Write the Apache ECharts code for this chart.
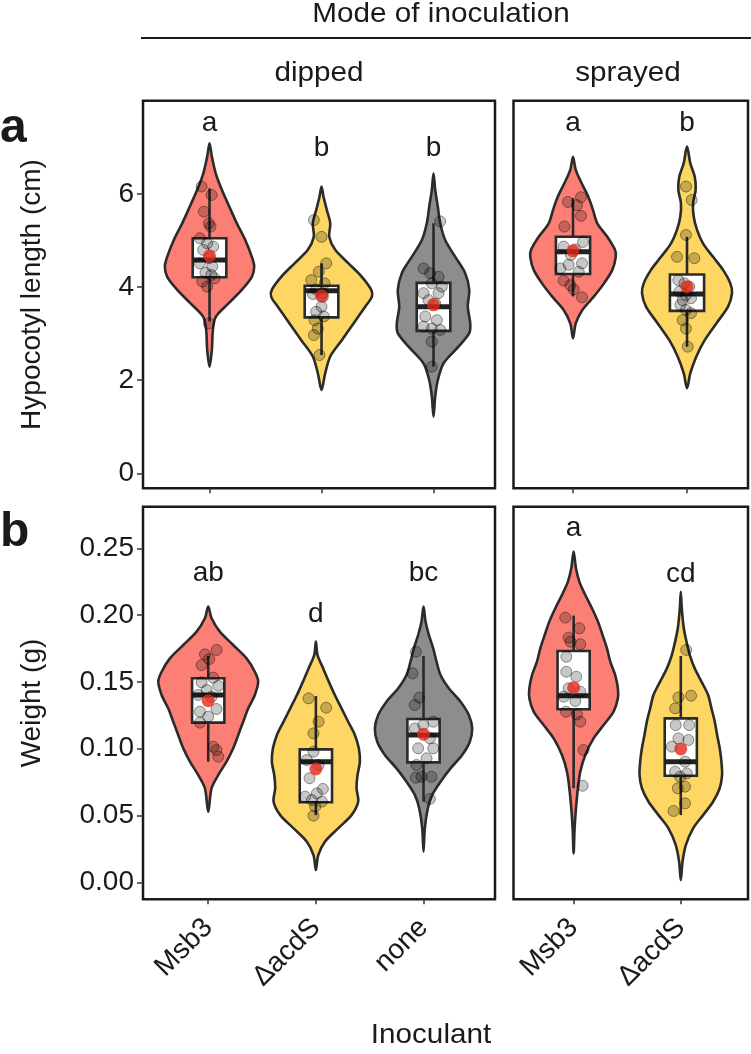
<!DOCTYPE html>
<html>
<head>
<meta charset="utf-8">
<script src="https://cdn.jsdelivr.net/npm/echarts@6/dist/echarts.min.js"></script>
<style>
  html, body { margin: 0; background: #fff; }
  #chart { width: 751px; height: 1054px; }
</style>
</head>
<body>
<div id="chart"></div>
<script>
// categories per facet
const dippedCats = ['Msb3', 'ΔacdS', 'none']
const sprayedCats = ['Msb3', 'ΔacdS']

// tick labels
const hypTicks = [0, 2, 4, 6]
const wtTicks = [0, 0.05, 0.10, 0.15, 0.20, 0.25]

// violin outlines: y values and half widths (in category units)
const hypDipMsb3Y = [7.09, 6.80, 6.44, 6.09, 5.73, 5.37, 5.01, 4.65, 4.44, 4.22, 3.94, 3.65, 3.36, 3.08, 2.65, 2.29]
const hypDipMsb3W = [0, 0.021, 0.056, 0.11, 0.176, 0.244, 0.319, 0.378, 0.399, 0.378, 0.288, 0.17, 0.056, 0.03, 0.021, 0]
const hypDipAcdsY = [6.16, 5.94, 5.66, 5.37, 5.08, 4.80, 4.51, 4.22, 3.94, 3.79, 3.58, 3.22, 2.86, 2.51, 2.15, 1.79]
const hypDipAcdsW = [0, 0.018, 0.047, 0.078, 0.069, 0.122, 0.241, 0.36, 0.444, 0.449, 0.39, 0.286, 0.181, 0.078, 0.033, 0]
const hypDipNoneY = [6.44, 6.09, 5.73, 5.37, 5.01, 4.65, 4.30, 3.94, 3.58, 3.22, 3.01, 2.72, 2.36, 2.00, 1.65, 1.22]
const hypDipNoneW = [0, 0.015, 0.038, 0.06, 0.104, 0.194, 0.283, 0.319, 0.306, 0.328, 0.319, 0.223, 0.089, 0.038, 0.015, 0]
const hypSprMsb3Y = [6.80, 6.52, 6.23, 5.94, 5.66, 5.37, 5.08, 4.80, 4.65, 4.37, 4.08, 3.80, 3.51, 3.22, 2.90]
const hypSprMsb3W = [0, 0.024, 0.076, 0.134, 0.175, 0.213, 0.301, 0.368, 0.375, 0.345, 0.272, 0.184, 0.082, 0.024, 0]
const hypSprAcdsY = [7.02, 6.66, 6.37, 6.09, 5.80, 5.51, 5.23, 4.94, 4.65, 4.37, 4.08, 3.87, 3.58, 3.22, 2.86, 2.51, 2.15, 1.83]
const hypSprAcdsW = [0, 0.029, 0.068, 0.076, 0.053, 0.059, 0.088, 0.14, 0.228, 0.316, 0.38, 0.395, 0.36, 0.257, 0.155, 0.082, 0.029, 0]

const wtDipMsb3Y = [0.2063, 0.1976, 0.1876, 0.1776, 0.1676, 0.1576, 0.1502, 0.1402, 0.1302, 0.1202, 0.1103, 0.1003, 0.0903, 0.0803, 0.0704, 0.0528]
const wtDipMsb3W = [0, 0.031, 0.108, 0.232, 0.356, 0.433, 0.464, 0.433, 0.372, 0.325, 0.279, 0.232, 0.17, 0.093, 0.031, 0]
const wtDipAcdsY = [0.1801, 0.1701, 0.1601, 0.1502, 0.1402, 0.1302, 0.1202, 0.1103, 0.1003, 0.0903, 0.0803, 0.0704, 0.0603, 0.0503, 0.0404, 0.0304, 0.0204, 0.0092]
const wtDipAcdsW = [0, 0.015, 0.068, 0.12, 0.176, 0.238, 0.30, 0.362, 0.399, 0.409, 0.387, 0.378, 0.393, 0.331, 0.207, 0.084, 0.022, 0]
const wtDipNoneY = [0.2063, 0.1951, 0.1851, 0.1751, 0.1651, 0.1551, 0.1452, 0.1352, 0.1252, 0.1152, 0.1052, 0.0953, 0.0853, 0.0753, 0.0653, 0.0554, 0.0404, 0.0229]
const wtDipNoneW = [0, 0.019, 0.05, 0.09, 0.121, 0.158, 0.235, 0.344, 0.421, 0.452, 0.43, 0.359, 0.251, 0.158, 0.08, 0.04, 0.012, 0]
const wtSprMsb3Y = [0.2475, 0.2350, 0.2250, 0.2150, 0.2051, 0.1951, 0.1851, 0.1751, 0.1651, 0.1551, 0.1452, 0.1377, 0.1277, 0.1177, 0.1077, 0.0953, 0.0828, 0.0704, 0.0554, 0.0404, 0.0217]
const wtSprMsb3W = [0, 0.022, 0.053, 0.109, 0.171, 0.227, 0.27, 0.311, 0.342, 0.388, 0.413, 0.413, 0.373, 0.28, 0.186, 0.109, 0.062, 0.04, 0.022, 0.009, 0]
const wtSprAcdsY = [0.2175, 0.2051, 0.1901, 0.1801, 0.1701, 0.1601, 0.1502, 0.1402, 0.1302, 0.1202, 0.1103, 0.1003, 0.0903, 0.0803, 0.0704, 0.0603, 0.0503, 0.0404, 0.0279, 0.0155, 0.0017]
const wtSprAcdsW = [0, 0.009, 0.028, 0.053, 0.084, 0.13, 0.193, 0.255, 0.286, 0.317, 0.339, 0.363, 0.379, 0.385, 0.363, 0.301, 0.208, 0.115, 0.047, 0.016, 0]

// box stats: [lower whisker, q1, median, q3, upper whisker]
const hypDipBox = [[3.26, 4.21, 4.58, 5.05, 6.12], [2.54, 3.35, 3.92, 4.03, 4.51], [2.29, 3.06, 3.58, 4.09, 5.37]]
const hypSprBox = [[3.80, 4.28, 4.76, 5.08, 5.91], [2.72, 3.49, 3.85, 4.27, 5.08]]
const wtDipBox = [[0.0903, 0.1195, 0.1402, 0.1527, 0.1694], [0.0503, 0.0599, 0.0903, 0.0995, 0.1394], [0.0603, 0.0898, 0.1103, 0.1222, 0.1694]]
const wtSprBox = [[0.0704, 0.1295, 0.1397, 0.1731, 0.1996], [0.0503, 0.0798, 0.0903, 0.1227, 0.1694]]

// group means (red dots)
const hypDipMean = [4.67, 3.81, 3.62]
const hypSprMean = [4.78, 4.01]
const wtDipMean = [0.1359, 0.0848, 0.1108]
const wtSprMean = [0.1457, 0.0998]

// significance letters
const hypDipLetters = ['a', 'b', 'b']
const hypDipLetterY = [7.51, 6.98, 6.98]
const hypSprLetters = ['a', 'b']
const hypSprLetterY = [7.51, 7.51]
const wtDipLetters = ['ab', 'd', 'bc']
const wtDipLetterY = [0.2315, 0.2008, 0.2315]
const wtSprLetters = ['a', 'cd']
const wtSprLetterY = [0.2648, 0.2308]

// individual plants: [jitter, value]
const hypDipMsb3Pts = [[-0.071, 6.16], [0.018, 5.98], [-0.05, 5.62], [-0.006, 5.37], [0.009, 5.30], [-0.086, 5.05], [-0.021, 4.94], [0.033, 4.87], [-0.057, 4.80], [-0.006, 4.62], [-0.086, 4.51], [0.024, 4.44], [-0.036, 4.31], [0.015, 4.26], [-0.065, 4.12], [-0.021, 4.01], [0.045, 4.19], [-0.006, 3.22]]
const hypDipAcdsPts = [[-0.068, 5.44], [0, 5.08], [0.042, 4.51], [-0.024, 4.33], [-0.092, 4.15], [0.027, 4.08], [-0.048, 3.95], [-0.077, 3.85], [0.012, 3.79], [0, 3.58], [-0.048, 3.47], [0.021, 3.37], [-0.063, 3.29], [-0.033, 3.11], [-0.068, 2.97], [-0.018, 2.54], [0.012, 3.87]]
const hypDipNonePts = [[0.06, 5.41], [-0.089, 4.40], [-0.03, 4.30], [0.045, 4.22], [-0.015, 4.08], [0.074, 4.01], [-0.089, 3.87], [0.045, 3.87], [-0.045, 3.72], [0.015, 3.65], [-0.074, 3.37], [0.03, 3.29], [-0.089, 3.15], [-0.015, 3.11], [0.06, 3.08], [-0.015, 2.83], [-0.015, 2.29]]
const hypSprMsb3Pts = [[-0.044, 5.83], [0.07, 5.93], [0.035, 5.76], [0.07, 5.53], [-0.076, 5.30], [0.088, 4.97], [-0.082, 4.87], [0.02, 4.81], [-0.018, 4.69], [0.079, 4.51], [-0.038, 4.48], [-0.111, 4.40], [0.05, 4.33], [-0.082, 4.14], [-0.023, 4.04], [0.006, 3.95], [0.079, 3.78]]
const hypSprAcdsPts = [[-0.009, 6.16], [0.041, 5.87], [-0.009, 5.12], [-0.088, 4.65], [0.064, 4.62], [-0.076, 4.15], [-0.023, 4.08], [0.02, 4.01], [-0.067, 3.90], [-0.009, 3.83], [-0.038, 3.72], [0.035, 3.76], [-0.058, 3.62], [-0.009, 3.51], [0.035, 3.44], [-0.038, 3.29], [-0.009, 3.11], [0.006, 2.72]]
const wtDipMsb3Pts = [[0.077, 0.1739], [-0.031, 0.1706], [0.009, 0.1671], [-0.062, 0.1626], [0.046, 0.1532], [-0.062, 0.1497], [0.093, 0.1471], [-0.015, 0.1439], [-0.093, 0.1402], [0.031, 0.1389], [0.077, 0.1297], [-0.077, 0.1277], [0, 0.1240], [-0.077, 0.1195], [0.046, 0.1015], [0.077, 0.0990], [0.093, 0.0940]]
const wtDipAcdsPts = [[-0.068, 0.1377], [0.096, 0.1307], [0.025, 0.1202], [-0.022, 0.1115], [-0.022, 0.0978], [-0.084, 0.0915], [0.025, 0.0878], [-0.059, 0.0779], [0.065, 0.0699], [0.009, 0.0666], [-0.099, 0.0641], [-0.037, 0.0616], [0.056, 0.0604], [-0.006, 0.0566], [-0.022, 0.0499]]
const wtDipNonePts = [[-0.071, 0.1726], [-0.102, 0.1564], [-0.04, 0.1382], [-0.081, 0.1327], [-0.003, 0.1177], [0.09, 0.1202], [-0.081, 0.1152], [0.059, 0.1077], [-0.05, 0.1003], [0.09, 0.1003], [0.028, 0.0928], [-0.065, 0.0878], [-0.019, 0.0790], [0.074, 0.0790], [-0.071, 0.0783], [0.059, 0.0624]]
const wtSprMsb3Pts = [[-0.078, 0.1981], [0.053, 0.1901], [-0.047, 0.1831], [-0.028, 0.1801], [0.062, 0.1781], [-0.068, 0.1688], [-0.068, 0.1576], [0.025, 0.1539], [-0.047, 0.1452], [0.062, 0.1427], [-0.093, 0.1389], [0.016, 0.1357], [-0.071, 0.1277], [0.031, 0.1257], [0.062, 0.1202], [0.093, 0.0990], [0.084, 0.0723]]
const wtSprAcdsPts = [[0.05, 0.1739], [-0.022, 0.1384], [0.096, 0.1397], [-0.053, 0.1302], [-0.047, 0.1177], [0.078, 0.1177], [-0.022, 0.1077], [0.071, 0.1065], [-0.084, 0.1015], [0.04, 0.0903], [-0.053, 0.0828], [0.056, 0.0815], [-0.006, 0.0790], [-0.028, 0.0704], [0.04, 0.0716], [0.04, 0.0591], [-0.068, 0.0534]]

const ink = '#1a1a1a'
const font = 'Liberation Sans, Arial, Helvetica, sans-serif'
const catColor = { 'Msb3': '#fc7f75', 'ΔacdS': '#fdd663', 'none': '#8d8d8d' }

const panels = [
  { cats: dippedCats, vy: [hypDipMsb3Y, hypDipAcdsY, hypDipNoneY], vw: [hypDipMsb3W, hypDipAcdsW, hypDipNoneW],
    box: hypDipBox, mean: hypDipMean, pts: [hypDipMsb3Pts, hypDipAcdsPts, hypDipNonePts], letters: hypDipLetters, letterY: hypDipLetterY },
  { cats: sprayedCats, vy: [hypSprMsb3Y, hypSprAcdsY], vw: [hypSprMsb3W, hypSprAcdsW],
    box: hypSprBox, mean: hypSprMean, pts: [hypSprMsb3Pts, hypSprAcdsPts], letters: hypSprLetters, letterY: hypSprLetterY },
  { cats: dippedCats, vy: [wtDipMsb3Y, wtDipAcdsY, wtDipNoneY], vw: [wtDipMsb3W, wtDipAcdsW, wtDipNoneW],
    box: wtDipBox, mean: wtDipMean, pts: [wtDipMsb3Pts, wtDipAcdsPts, wtDipNonePts], letters: wtDipLetters, letterY: wtDipLetterY },
  { cats: sprayedCats, vy: [wtSprMsb3Y, wtSprAcdsY], vw: [wtSprMsb3W, wtSprAcdsW],
    box: wtSprBox, mean: wtSprMean, pts: [wtSprMsb3Pts, wtSprAcdsPts], letters: wtSprLetters, letterY: wtSprLetterY }
]

const grids = [
  { left: 143, top: 100.7, width: 352, height: 387.6 },
  { left: 513.5, top: 100.7, width: 234.5, height: 387.6 },
  { left: 143, top: 506.7, width: 352, height: 392.6 },
  { left: 513.5, top: 506.7, width: 234.5, height: 392.6 }
].map(g => Object.assign(g, { show: true, borderColor: ink, borderWidth: 2.5, backgroundColor: 'transparent' }))

const xRange = [[0.406, 3.549], [0.478, 2.535], [0.394, 3.664], [0.439, 2.627]]

function xAxisCfg (gi) {
  const cats = panels[gi].cats
  const pos = cats.map((c, i) => i + 1)
  return {
    type: 'value',
    gridIndex: gi,
    position: 'bottom',
    min: xRange[gi][0],
    max: xRange[gi][1],
    axisLine: { show: false, onZero: false },
    splitLine: { show: false },
    axisTick: { show: true, customValues: pos, length: 5, lineStyle: { color: '#333', width: 1.5 } },
    axisLabel: {
      show: gi >= 2,
      customValues: pos,
      rotate: 45,
      margin: 24,
      fontSize: 28,
      fontFamily: font,
      color: ink,
      formatter: v => cats[Math.round(v) - 1]
    }
  }
}

function yAxisCfg (gi) {
  const top = gi < 2
  const ticks = top ? hypTicks : wtTicks
  const left = gi % 2 === 0
  return {
    type: 'value',
    gridIndex: gi,
    position: 'left',
    min: top ? -0.322 : -0.0127,
    max: top ? 8.004 : 0.2811,
    axisLine: { show: false, onZero: false },
    splitLine: { show: false },
    axisTick: { show: left, customValues: ticks, length: 6, lineStyle: { color: '#333', width: 1.5 } },
    axisLabel: {
      show: left,
      customValues: ticks,
      margin: 9,
      fontSize: 28,
      fontFamily: font,
      color: ink,
      formatter: v => top ? String(v) : v.toFixed(2)
    }
  }
}

function panelSeries (p, gi) {
  const series = []
  // violins
  series.push({
    type: 'custom',
    xAxisIndex: gi,
    yAxisIndex: gi,
    silent: true,
    data: p.cats.map((c, i) => [i + 1]),
    renderItem: (params, api) => {
      const k = params.dataIndex
      const x = k + 1
      const vy = p.vy[k]
      const vw = p.vw[k]
      const pts = []
      for (let i = 0; i < vy.length; i++) pts.push(api.coord([x + vw[i], vy[i]]))
      for (let i = vy.length - 2; i > 0; i--) pts.push(api.coord([x - vw[i], vy[i]]))
      return {
        type: 'polygon',
        shape: { points: pts, smooth: 0.3 },
        style: { fill: catColor[p.cats[k]], stroke: '#2b2b2b', lineWidth: 2.6 }
      }
    }
  })
  // boxplots
  series.push({
    type: 'custom',
    xAxisIndex: gi,
    yAxisIndex: gi,
    silent: true,
    data: p.box.map((b, i) => [i + 1].concat(b)),
    renderItem: (params, api) => {
      const x = api.value(0)
      const lo = api.coord([x, api.value(1)])
      const hi = api.coord([x, api.value(5)])
      const a = api.coord([x - 0.15, api.value(4)])
      const b = api.coord([x + 0.15, api.value(2)])
      const m1 = api.coord([x - 0.15, api.value(3)])
      const m2 = api.coord([x + 0.15, api.value(3)])
      const st = { stroke: '#2b2b2b', lineWidth: 2.6 }
      return {
        type: 'group',
        children: [
          { type: 'line', shape: { x1: lo[0], y1: lo[1], x2: hi[0], y2: hi[1] }, style: st },
          { type: 'rect', shape: { x: a[0], y: a[1], width: b[0] - a[0], height: b[1] - a[1] }, style: Object.assign({ fill: '#fff' }, st) },
          { type: 'line', shape: { x1: m1[0], y1: m1[1], x2: m2[0], y2: m2[1] }, style: { stroke: '#222', lineWidth: 5 } }
        ]
      }
    }
  })
  // jittered points
  series.push({
    type: 'scatter',
    xAxisIndex: gi,
    yAxisIndex: gi,
    silent: true,
    symbolSize: 11,
    itemStyle: { color: 'rgba(0,0,0,0.27)', borderColor: 'rgba(0,0,0,0.5)', borderWidth: 1 },
    data: p.pts.flatMap((arr, k) => arr.map(d => [k + 1 + d[0], d[1]]))
  })
  // means
  series.push({
    type: 'scatter',
    xAxisIndex: gi,
    yAxisIndex: gi,
    silent: true,
    symbolSize: 13,
    itemStyle: { color: '#e2291a' },
    data: p.mean.map((m, k) => [k + 1, m])
  })
  // letters
  series.push({
    type: 'custom',
    xAxisIndex: gi,
    yAxisIndex: gi,
    silent: true,
    data: p.letterY.map((y, k) => [k + 1, y]),
    renderItem: (params, api) => {
      const c = api.coord([api.value(0), api.value(1)])
      return {
        type: 'text',
        style: {
          text: p.letters[params.dataIndex], x: c[0], y: c[1],
          align: 'center', verticalAlign: 'middle', textAlign: 'center', textVerticalAlign: 'middle',
          fontSize: 28, fontFamily: font, fill: ink
        }
      }
    }
  })
  return series
}

const textStyle = (t, size, weight) => ({ text: t, fontSize: size, fontFamily: font, fontWeight: weight || 'normal', fill: ink, align: 'center', verticalAlign: 'middle' })

const option = {
  animation: false,
  backgroundColor: '#fff',
  grid: grids,
  xAxis: panels.map((p, i) => xAxisCfg(i)),
  yAxis: panels.map((p, i) => yAxisCfg(i)),
  series: panels.flatMap((p, i) => panelSeries(p, i)),
  graphic: [
    { type: 'text', x: 441, y: 14, scaleX: 1.06, style: textStyle('Mode of inoculation', 28) },
    { type: 'line', shape: { x1: 141, y1: 38, x2: 751, y2: 38 }, style: { stroke: ink, lineWidth: 2 } },
    { type: 'text', x: 319, y: 73, scaleX: 1.06, style: textStyle('dipped', 28) },
    { type: 'text', x: 628, y: 73, scaleX: 1.06, style: textStyle('sprayed', 28) },
    { type: 'text', x: 431, y: 1035, scaleX: 1.06, style: textStyle('Inoculant', 28) },
    { type: 'text', x: 32, y: 294.5, rotation: Math.PI / 2, style: textStyle('Hypocotyl length (cm)', 28) },
    { type: 'text', x: 32, y: 703, rotation: Math.PI / 2, style: textStyle('Weight (g)', 28) },
    { type: 'text', x: 0, y: 129, style: Object.assign(textStyle('a', 48, 'bold'), { align: 'left' }) },
    { type: 'text', x: 0, y: 533, style: Object.assign(textStyle('b', 48, 'bold'), { align: 'left' }) }
  ]
}

const chart = echarts.init(document.getElementById('chart'))
chart.setOption(option)
window.addEventListener('resize', () => chart.resize())
</script>
</body>
</html>
